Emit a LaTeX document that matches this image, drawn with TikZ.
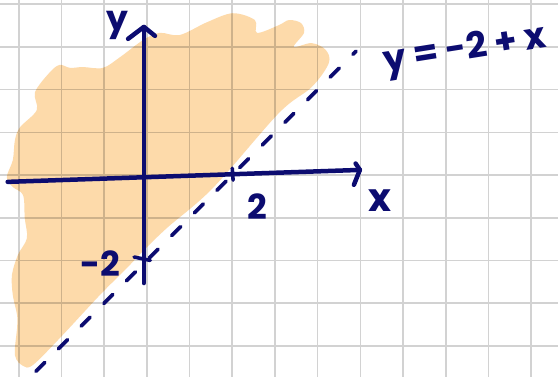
\documentclass[tikz,border=0pt]{standalone}
\usepackage{fontspec}
\setmainfont{Poppins}
\usetikzlibrary{positioning}
\definecolor{ink}{RGB}{12,12,112}
\definecolor{peach}{RGB}{253,218,170}
\definecolor{paper}{RGB}{210,210,210}
\definecolor{paperdark}{RGB}{206,178,139}

\begin{document}
\begin{tikzpicture}[
  every node/.style={font=\fontsize{23}{25}\selectfont\bfseries, text=ink},
  gridline/.style={draw=paper, line width=1.1pt},
  shade/.style={fill=peach},
  axis/.style={draw=ink, line width=3pt, line cap=round, line join=round},
  bound/.style={draw=ink, line width=2.4pt, line cap=round,
    dash pattern=on 0.3cm off 0.45cm},
  tick/.style={draw=ink, line width=2.4pt, line cap=round},
]
\useasboundingbox (-3.44,-4.73) rectangle (9.63,4.10);
\clip (-3.44,-4.73) rectangle (9.63,4.10);
\fill[white] (-3.44,-4.73) rectangle (9.63,4.10);

% squared paper
\draw[gridline] (-4,-5) grid (10,5);

% shaded region
\fill[shade, save path=\blobpath] plot[smooth cycle, tension=0.55] coordinates {
  (2.01,3.79) (2.53,3.63) (2.58,3.33) (3.09,3.51) (3.33,3.63) (3.61,3.56)
  (3.68,3.33) (3.44,3.00) (3.86,3.09) (4.19,2.93) (4.26,2.62) (3.86,2.06)
  (3.09,1.45) (1.55,-0.30) (0.47,-1.24) (-0.09,-1.78) (-0.47,-2.18)
  (-1.10,-2.81) (-2.04,-3.82) (-2.67,-4.45) (-2.90,-4.47) (-3.09,-4.22)
  (-3.04,-3.58) (-3.04,-3.28) (-3.14,-2.81) (-3.16,-2.34) (-3.02,-1.87)
  (-2.81,-1.48) (-2.86,-1.01) (-2.90,-0.47) (-3.14,-0.28) (-3.28,-0.05)
  (-3.14,0.35) (-3.09,0.82) (-2.97,1.12) (-2.58,1.52) (-2.62,1.94)
  (-2.27,2.41) (-2.04,2.58) (-1.80,2.51) (-1.50,2.53) (-1.03,2.51)
  (-0.63,2.76) (-0.09,3.16) (0.30,3.33) (0.77,3.28) (1.41,3.58)};
\begin{scope}
  \path[use path=\blobpath, clip];
  \draw[gridline, draw=paperdark] (-4,-5) grid (10,5);
\end{scope}

% boundary line
\coordinate (lo) at (-2.6,-4.6);
\coordinate (hi) at (4.9,2.9);
\draw[bound] (lo) -- (hi);

% axes
\coordinate (xs) at (-3.26,-0.16);
\coordinate (xe) at (4.99,0.12);
\coordinate (ys) at (-0.07,-2.53);
\coordinate (ye) at (-0.07,3.47);
\draw[axis] (xs) -- (xe);
\draw[axis] (4.89,0.27) -- (xe) -- (4.85,-0.23);
\draw[axis] (ys) -- (ye);
\draw[axis] (-0.44,3.19) -- (ye) -- (0.19,3.26);

\draw[tick] (2.0,0.16) -- (2.02,-0.12);
\draw[tick] (-0.3,-1.92) -- (0.08,-2.0);

\node (ylab) at (-0.68,3.51) {y};
\node[font=\fontsize{26}{28}\selectfont\bfseries] (xlab) at (5.46,-0.6) {x};
\node (xtwo) at (2.58,-0.73) {2};
\node (ytwo) at (-1.10,-2.08) {-2};
\node[rotate=9, font=\fontsize{24}{26}\selectfont\bfseries] (eqn)
  at (7.45,2.9) {y = -2 + x};
\end{tikzpicture}
\end{document}
